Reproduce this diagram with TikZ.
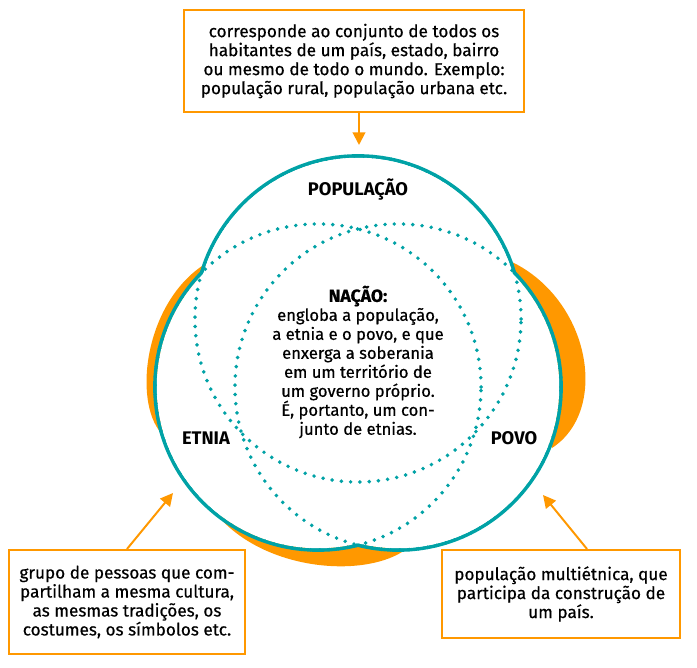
\documentclass[tikz,border=0pt]{standalone}
\usepackage{fontspec}
\setmainfont{Fira Sans}
\newfontfamily\notefont{Fira Sans}[FakeBold=0.5]
\usetikzlibrary{arrows.meta}
\definecolor{ringteal}{RGB}{0,162,166}
\definecolor{noteorange}{RGB}{255,152,0}
\tikzset{
  ring/.style={draw=ringteal, line width=2.6pt},
  hidden/.style={draw=ringteal, line width=2.8pt, line cap=round, dash pattern=on 0pt off 6.6pt},
  crescent/.style={fill=noteorange},
  note/.style={draw=noteorange, line width=1.4pt, align=center, inner sep=0pt,
    font=\notefont\fontsize{12.2}{13.5}\selectfont},
  tag/.style={font=\bfseries\fontsize{13}{15}\selectfont},
  pointer/.style={draw=noteorange, line width=1.4pt, -{Triangle[width=9pt,length=9pt]}},
}
\begin{document}
\begin{tikzpicture}[x=0.025cm, y=-0.025cm]
  \useasboundingbox (0,0) rectangle (697,668);
  % centres of the three sets
  \coordinate (cPop) at (358,319);
  \coordinate (cEtnia) at (318,387);
  \coordinate (cPovo) at (398,387);
  % orange crescents behind the rings
  \fill[crescent] (202,266) .. controls (145,305) and (133,400) .. (161,433) -- (200,380) -- cycle;
  \fill[crescent] (512,262) .. controls (590,300) and (610,410) .. (552,448) -- (520,380) -- cycle;
  \fill[crescent] (218,516) .. controls (265,570) and (360,578) .. (402,552) -- (360,530) -- cycle;
  % solid outline of the union
  \foreach \c in {cPop,cEtnia,cPovo}
    \draw[ring] (\c) circle[radius=4.075cm];
  \foreach \c in {cPop,cEtnia,cPovo}
    \fill[white] (\c) circle[radius=4.03cm];
  % dotted inner arcs
  \foreach \c in {cPop,cEtnia,cPovo}
    \draw[hidden] (\c) circle[radius=4.075cm];
  % labels of the sets
  \node[tag] (pop) at (358,190) {POPULAÇÃO};
  \node[tag] (etnia) at (206,438) {ETNIA};
  \node[tag] (povo) at (514,438) {POVO};
  \node[align=center, font=\notefont\fontsize{11.8}{13.5}\selectfont] (nacao) at (358,362)
    {{\bfseries\fontsize{12.5}{13.5}\selectfont NAÇÃO:}\\engloba a população,\\a etnia e o povo, e que\\enxerga a soberania\\em um território de\\um governo próprio.\\É, portanto, um con-\\junto de etnias.};
  % notes
  \node[note, minimum width=8.5cm, minimum height=2.55cm] (boxpop) at (354,61)
    {corresponde ao conjunto de todos os\\habitantes de um país, estado, bairro\\ou mesmo de todo o mundo. Exemplo:\\população rural, população urbana etc.};
  \node[note, minimum width=5.9cm, minimum height=2.6cm] (boxetnia) at (127,602)
    {grupo de pessoas que com-\\partilham a mesma cultura,\\as mesmas tradições, os\\costumes, os símbolos etc.};
  \node[note, minimum width=5.95cm, minimum height=2.2cm] (boxpovo) at (561,594)
    {população multiétnica, que\\participa da construção de\\um país.};
  \coordinate (tipPop) at (359,145);
  \coordinate (tipEtnia) at (173,493);
  \coordinate (tipPovo) at (543,495);
  \draw[pointer] ([xshift=0.125cm]boxpop.south) -- (tipPop);
  \draw[pointer] (boxetnia.north) -- (tipEtnia);
  \draw[pointer] ([xshift=0.65cm]boxpovo.north) -- (tipPovo);
\end{tikzpicture}
\end{document}
